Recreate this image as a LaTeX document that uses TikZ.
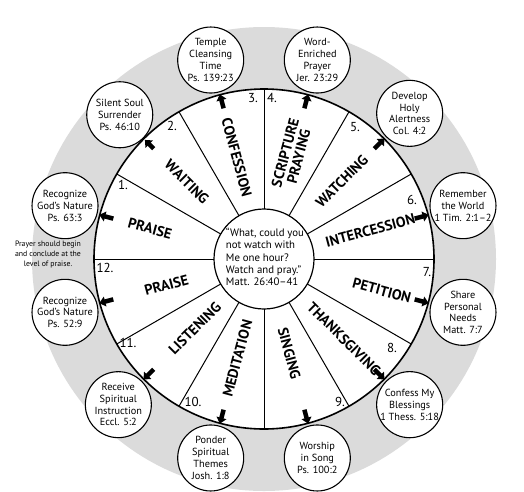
\documentclass[tikz,border=0pt]{standalone}
\usepackage{fontspec}
\setmainfont{PT Sans}
\usetikzlibrary{arrows.meta}
\begin{document}
\begin{tikzpicture}[x=1pt,y=1pt,
  wheelline/.style={line width=1.6pt},
  divider/.style={line width=1pt},
  bubble/.style={circle, draw, line width=1.1pt, fill=white, minimum size=66pt, inner sep=0pt, align=center, font=\fontsize{10.3}{11.8}\selectfont},
  seclabel/.style={font=\fontsize{14.5}{14}\selectfont\bfseries, align=center, inner sep=0pt},
  numlabel/.style={font=\fontsize{13}{13}\selectfont, inner sep=0pt},
  bigarrow/.style={line width=4.5pt, -{Triangle[length=6pt,width=10pt]}, shorten >=2pt}
]
\useasboundingbox (-264,-232) rectangle (260,259);
\fill[gray!28] (0,0) circle (232);
\node[circle, draw, fill=white, wheelline, minimum size=340pt, inner sep=0pt] (wheel) at (0,0) {};
\foreach \a in {0,30,...,330} \draw[divider] (\a:50) -- (\a:169.5);
\node[circle, draw, fill=white, line width=1.2pt, minimum size=100pt, inner sep=0pt] (hub) at (0,0) {};
\node[align=left, inner sep=0pt, font=\fontsize{10.8}{12.3}\selectfont] (quote) at (1,2)
  {“What, could you\\not watch with\\Me one hour?\\Watch and pray.”\\Matt. 26:40--41};

% sector labels
\node[seclabel, rotate=-15] (l1) at (165:118) {PRAISE};
\node[seclabel, rotate=-45] (l2) at (135:109) {WAITING};
\node[seclabel, rotate=-75] (l3) at (105:105) {CONFESSION};
\node[seclabel, rotate=75] (l4) at (75:108) {SCRIPTURE\\PRAYING};
\node[seclabel, rotate=45] (l5) at (45:110) {WATCHING};
\node[seclabel, rotate=15] (l6) at (15:110) {INTERCESSION};
\node[seclabel, rotate=-15] (l7) at (-15:122) {PETITION};
\node[seclabel, rotate=-45] (l8) at (-45:113) {THANKSGIVING};
\node[seclabel, rotate=-75] (l9) at (-75:98) {SINGING};
\node[seclabel, rotate=75] (l10) at (-105:103) {MEDITATION};
\node[seclabel, rotate=45] (l11) at (-135:98) {LISTENING};
\node[seclabel, rotate=15] (l12) at (-165:101) {PRAISE};

% numbers
\node[numlabel] (n1) at (-141,74) {1.};
\node[numlabel] (n2) at (-92,133) {2.};
\node[numlabel] (n3) at (-11,161) {3.};
\node[numlabel] (n4) at (8,161) {4.};
\node[numlabel] (n5) at (91,132) {5.};
\node[numlabel] (n6) at (148,59) {6.};
\node[numlabel] (n7) at (163,-13) {7.};
\node[numlabel] (n8) at (128,-89) {8.};
\node[numlabel] (n9) at (76,-143) {9.};
\node[numlabel] (n10) at (-71,-143) {10.};
\node[numlabel] (n11) at (-136,-84) {11.};
\node[numlabel] (n12) at (-159,-9) {12.};

% bubbles
\node[bubble] (c1) at (165:206) {Recognize\\God's Nature\\Ps. 63:3};
\node[bubble] (c2) at (135:204) {Silent Soul\\Surrender\\Ps. 46:10};
\node[bubble] (c3) at (105:206) {Temple\\Cleansing\\Time\\Ps. 139:23};
\node[bubble] (c4) at (75:206) {Word-\\Enriched\\Prayer\\Jer. 23:29};
\node[bubble] (c5) at (45:206) {Develop\\Holy\\Alertness\\Col. 4:2};
\node[bubble] (c6) at (15:206) {Remember\\the World\\1 Tim. 2:1--2};
\node[bubble] (c7) at (-15:206) {Share\\Personal\\Needs\\Matt. 7:7};
\node[bubble] (c8) at (-45:206) {Confess My\\Blessings\\1 Thess. 5:18};
\node[bubble] (c9) at (-75:206) {Worship\\in Song\\Ps. 100:2};
\node[bubble] (c10) at (-105:206) {Ponder\\Spiritual\\Themes\\Josh. 1:8};
\node[bubble] (c11) at (-135:206) {Receive\\Spiritual\\Instruction\\Eccl. 5:2};
\node[bubble] (c12) at (-165:206) {Recognize\\God's Nature\\Ps. 52:9};

% arrows
\foreach \i/\a in {1/165,2/135,3/105,4/75,5/45,6/15,7/-15,8/-45,9/-75,10/-105,11/-135,12/-165}{
  \coordinate (a\i) at (\a:156);
  \draw[bigarrow] (a\i) -- (c\i);
}

\node[align=center, inner sep=0pt, font=\fontsize{7.8}{10}\selectfont] (note) at (-216,4)
  {Prayer should begin\\and conclude at the\\level of praise.};
\end{tikzpicture}
\end{document}
